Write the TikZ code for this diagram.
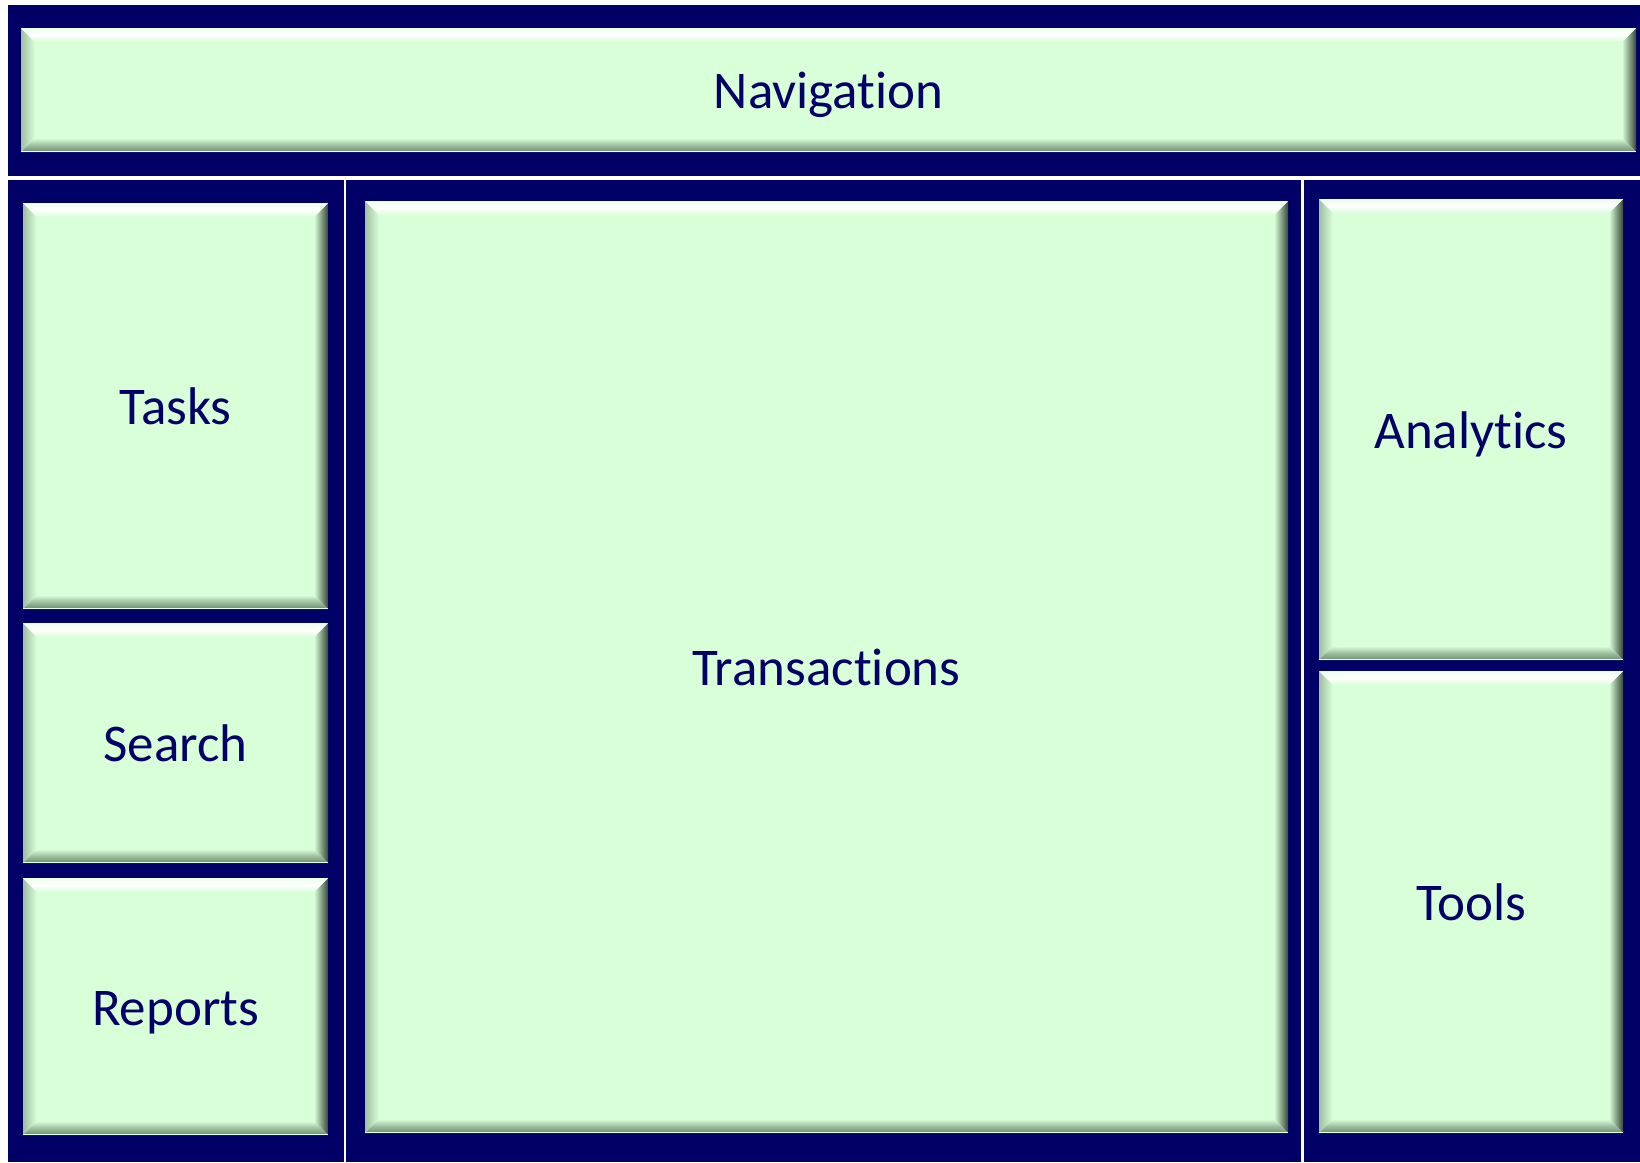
\documentclass[tikz,border=0pt]{standalone}
\usepackage{fontspec}
\setmainfont[Ligatures=NoCommon]{Carlito}
\definecolor{navyc}{RGB}{0,0,102}
\definecolor{boxfill}{RGB}{217,255,217}
\definecolor{bevdark}{RGB}{55,72,55}
\definecolor{bevmid}{RGB}{110,140,110}
\definecolor{bevleft}{RGB}{160,192,160}
\tikzset{
  lbl/.style={anchor=base, inner sep=0pt, text=navyc, font=\fontsize{53}{62}\selectfont},
}
\newcommand\bw{14}
\newcommand\bevbox[6]{%
  \fill[boxfill] (#2,#3) rectangle (#4,#5);
  % left bevel
  \shade[left color=bevleft, right color=boxfill]
    (#2,#3) -- ({#2+\bw},{#3+\bw}) -- ({#2+\bw},{#5-\bw}) -- (#2,#5) -- cycle;
  % right bevel
  \shade[left color=boxfill, right color=bevdark, middle color=boxfill!50!bevdark]
    (#4,#3) -- ({#4-\bw},{#3+\bw}) -- ({#4-\bw},{#5-\bw}) -- (#4,#5) -- cycle;
  % top bevel
  \shade[top color=boxfill!50!white, bottom color=boxfill, middle color=white]
    (#2,#3) -- (#4,#3) -- ({#4-\bw},{#3+\bw}) -- ({#2+\bw},{#3+\bw}) -- cycle;
  % bottom bevel
  \shade[top color=boxfill, bottom color=bevmid, middle color=boxfill!45!bevmid]
    (#2,#5) -- (#4,#5) -- ({#4-\bw},{#5-\bw}) -- ({#2+\bw},{#5-\bw}) -- cycle;
  \draw[boxfill!80!white, line width=1.5] (#2,{#5-0.75}) -- (#4,{#5-0.75});
  \node[lbl] (#1) at ({(#2+#4)/2},{(#3+#5)/2+18.5}) {#6};
}
\begin{document}
\begin{tikzpicture}[x=1pt,y=-1pt]
\useasboundingbox (0,0) rectangle (1640,1162);
\fill[white] (0,0) rectangle (1640,1162);
\fill[navyc] (8,5) rectangle (1640,1162);
\fill[white] (8,176) rectangle (1640,180);
\fill[white] (343.5,180) rectangle (345.8,1162);
\fill[white] (1301,180) rectangle (1303.5,1162);
\bevbox{nav}{21}{28}{1636}{152}{Navigation}
\bevbox{tasks}{23}{203}{328}{609}{Tasks}
\bevbox{search}{23}{623}{328}{863}{Search}
\bevbox{reports}{23}{878}{328}{1135}{Reports}
\bevbox{trans}{365}{201}{1288}{1133}{Transactions}
\bevbox{analytics}{1319}{199}{1623}{660}{Analytics}
\bevbox{tools}{1319}{671}{1623}{1133}{Tools}
\end{tikzpicture}
\end{document}
